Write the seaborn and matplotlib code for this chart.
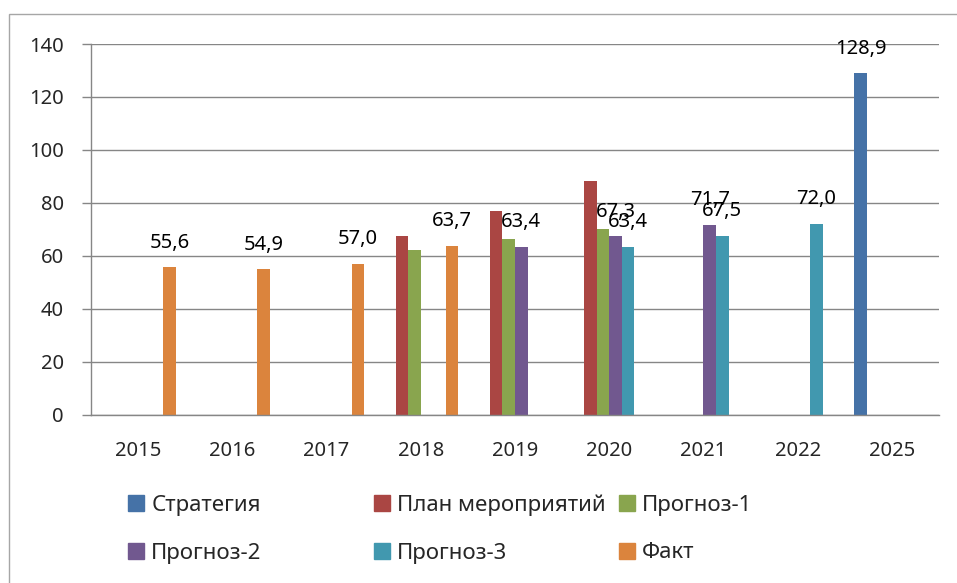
import numpy as np
import pandas as pd
import matplotlib.pyplot as plt
import matplotlib.patches as mpatches
import matplotlib.colors as mcolors
import seaborn as sns

# --- data ---
years = ['2015', '2016', '2017', '2018', '2019', '2020', '2021', '2022', '2025']
series = ['Стратегия', 'План мероприятий', 'Прогноз-1', 'Прогноз-2', 'Прогноз-3', 'Факт']
colors = ['#4572A7', '#AA4643', '#89A54E', '#71588F', '#4198AF', '#DB843D']

strategy_years = ['2025']
strategy = [128.9]
plan_years = ['2018', '2019', '2020']
plan = [67.3, 76.8, 88.1]
forecast1_years = ['2018', '2019', '2020']
forecast1 = [62.1, 66.2, 70.2]
forecast2_years = ['2019', '2020', '2021']
forecast2 = [63.4, 67.3, 71.7]
forecast3_years = ['2020', '2021', '2022']
forecast3 = [63.4, 67.5, 72.0]
fact_years = ['2015', '2016', '2017', '2018']
fact = [55.6, 54.9, 57.0, 63.7]

labeled = ['Стратегия', 'Прогноз-2', 'Прогноз-3', 'Факт']

parts = [
    ('Стратегия', strategy_years, strategy),
    ('План мероприятий', plan_years, plan),
    ('Прогноз-1', forecast1_years, forecast1),
    ('Прогноз-2', forecast2_years, forecast2),
    ('Прогноз-3', forecast3_years, forecast3),
    ('Факт', fact_years, fact),
]
df = pd.concat([pd.DataFrame({'Год': y, 'Значение': v, 'Серия': name})
                for name, y, v in parts], ignore_index=True)

sns.set_style('white')
plt.rcParams['font.family'] = ['Noto Sans', 'DejaVu Sans']
plt.rcParams['font.size'] = 14.5

grey = '#868686'
fig = plt.figure(figsize=(9.57, 5.83), dpi=100)
ax = fig.add_axes([91 / 957, 1 - 414.5 / 583, (939 - 91) / 957, (414.5 - 44) / 583])

sns.barplot(data=df, x='Год', y='Значение', hue='Серия', order=years,
            hue_order=series, palette=colors, saturation=1, errorbar=None,
            width=0.8, linewidth=0, legend=False, ax=ax)

# data labels for some series (overlaps in 2020/2021 are as in the original)
color_to_series = {mcolors.to_hex(c): s for s, c in zip(series, colors)}
for cont in ax.containers:
    if len(cont.patches) == 0:
        continue
    name = color_to_series.get(mcolors.to_hex(cont.patches[0].get_facecolor()))
    if name in labeled:
        ax.bar_label(cont, fmt=lambda v: f'{v:.1f}'.replace('.', ','),
                     padding=10.5, fontsize=14.5, color='black')

ax.set_ylim(0, 140)
ax.set_xlim(-0.5, len(years) - 0.5)
ax.set_yticks(np.arange(0, 141, 20))
ax.yaxis.grid(True, color=grey, linewidth=1)
ax.set_axisbelow(True)
ax.set_xlabel('')
ax.set_ylabel('')

ax.set_xticks(np.arange(-0.5, len(years)), labels=[])
ax.set_xticks(np.arange(len(years)), labels=years, minor=True)
ax.tick_params(axis='x', which='major', length=6, color=grey, width=1, direction='out')
ax.tick_params(axis='x', which='minor', length=0, pad=19, labelsize=14.5)
ax.tick_params(axis='y', length=6.5, color=grey, width=1, pad=13, labelsize=14.5, left=True)

for side in ['top', 'right']:
    ax.spines[side].set_visible(False)
for side in ['left', 'bottom']:
    ax.spines[side].set_color(grey)
    ax.spines[side].set_linewidth(1)

# legend: three columns, two rows, each entry placed on a fixed grid
handles = [mpatches.Patch(color=c, label=s) for s, c in zip(series, colors)]
col_x = [128 / 957, 374 / 957, 619 / 957]
row_y = [1 - 505 / 583, 1 - 553 / 583]
for i, h in enumerate(handles):
    fig.legend(handles=[h], loc='center left',
               bbox_to_anchor=(col_x[i % 3], row_y[i // 3]), frameon=False,
               fontsize=16, handlelength=0.7, handleheight=0.7,
               handletextpad=0.35, borderaxespad=0, borderpad=0)

# outer chart border (cropped at right and bottom)
fig.add_artist(mpatches.Rectangle((8.5 / 957, -0.1), 1.2, 1.1 - 14.5 / 583,
                                  transform=fig.transFigure, fill=False,
                                  edgecolor='#A6A6A6', linewidth=1))

plt.savefig('out.png', dpi=100)
